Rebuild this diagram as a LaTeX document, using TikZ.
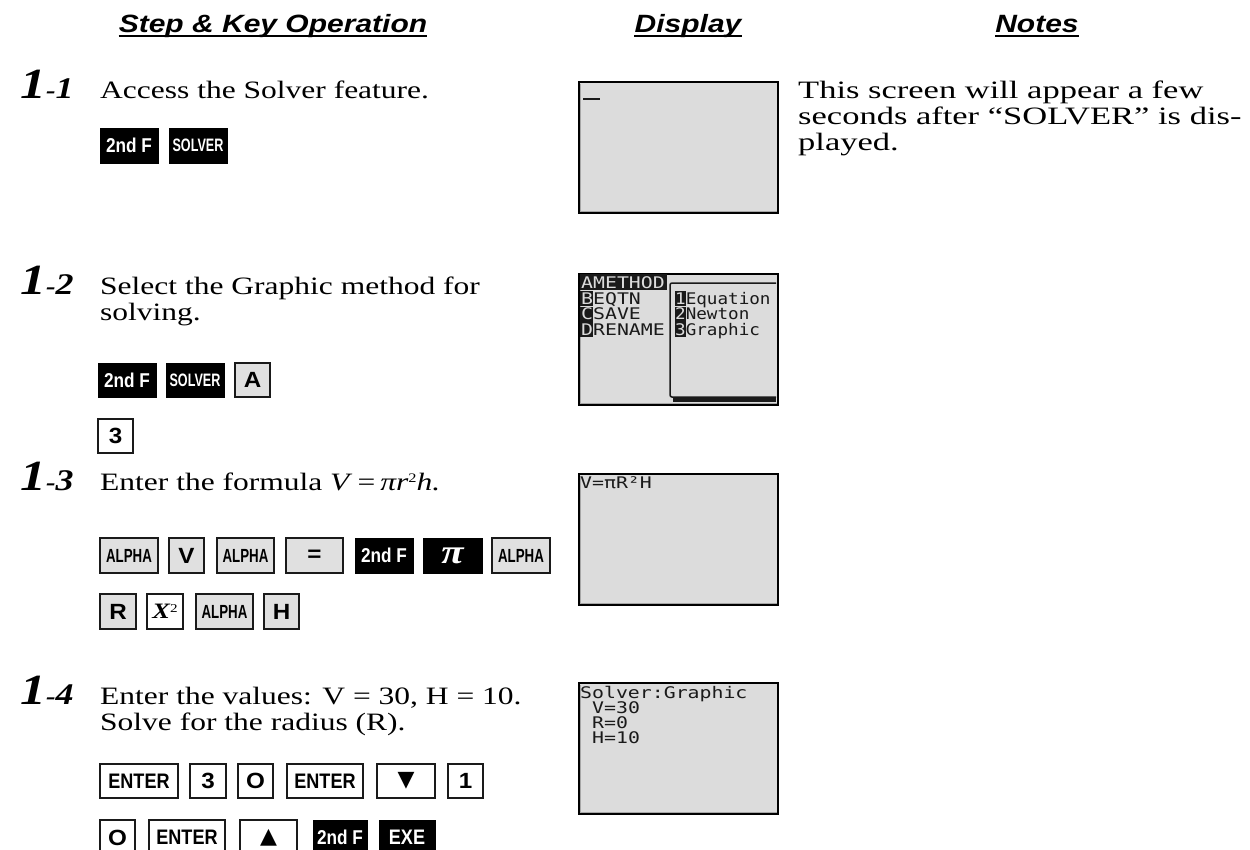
\documentclass[tikz,border=0pt]{standalone}
\usepackage{fontspec}
\setmainfont[FakeStretch=1.26]{Liberation Serif}
\newfontfamily\notefont[FakeStretch=1.38]{Liberation Serif}
\newfontfamily\labfont[FakeStretch=1.2]{Liberation Serif}
\newfontfamily\hdfont[FakeStretch=1.2]{Liberation Sans}
\newfontfamily\kfa[FakeStretch=0.7]{Liberation Sans}
\newfontfamily\kfb[FakeStretch=0.86]{Liberation Sans}
\newfontfamily\kfc[FakeStretch=1.1]{Liberation Sans}
\newfontfamily\symfont{DejaVu Sans}
\newfontfamily\lcdfont[FakeStretch=1.24]{DejaVu Sans Mono}
\newfontfamily\lcdnarrow[FakeStretch=1.1]{DejaVu Sans Mono}
\definecolor{lcd}{HTML}{DCDCDC}
\definecolor{keygray}{HTML}{E0E0E0}
\definecolor{ink}{HTML}{1A1A1A}
\newcommand\keyat[6]{\node[#1,minimum width={#4-#2},minimum height={#5-#3}] (#6) at ({(#2+#4)/2},{(#3+#5)/2})}
\begin{document}
\begin{tikzpicture}[x=1pt,y=-1pt,
  body/.style={anchor=base west,inner sep=0pt,font=\fontsize{25}{26}\selectfont},
  note/.style={anchor=base west,inner sep=0pt,font=\notefont\fontsize{25}{26}\selectfont},
  hdr/.style={anchor=base,inner sep=0pt,font=\hdfont\bfseries\itshape\fontsize{25}{30}\selectfont},
  stepno/.style={anchor=base west,inner sep=0pt,font=\labfont\bfseries\itshape},
  keybase/.style={draw=ink,line width=1.3pt,inner sep=0pt,text=black},
  gkey/.style={keybase,fill=keygray},
  wkey/.style={keybase,fill=white},
  bkey/.style={draw=black,fill=black,text=white,inner sep=0pt,line width=0.5pt},
  fA/.style={font=\kfa\bfseries\fontsize{19}{19}\selectfont},
  fS/.style={font=\kfa\bfseries\fontsize{18}{18}\selectfont},
  fB/.style={font=\kfb\bfseries\fontsize{20}{20}\selectfont},
  fE/.style={font=\kfb\bfseries\fontsize{21}{21}\selectfont},
  fL/.style={font=\kfc\bfseries\fontsize{22}{22}\selectfont},
  fT/.style={font=\symfont\fontsize{22}{22}\selectfont},
  screen/.style={draw=black,line width=2pt,fill=lcd,minimum width=199,minimum height=131,anchor=north west,inner sep=0pt},
  bevel/.style={draw=gray!70,line width=1pt},
  lcdtxt/.style={anchor=base west,inner sep=0pt,text height=11pt,text depth=2pt,font=\lcdfont\fontsize{16}{16}\selectfont,text=ink},
  lcdpop/.style={lcdtxt,font=\lcdnarrow\fontsize{16}{16}\selectfont},
  lcdinv/.style={lcdtxt,text=lcd}]
\useasboundingbox (0,0) rectangle (1250,849);

% headers
\node[hdr] (h1) at (273,32) {Step \& Key Operation};
\node[hdr] (h2) at (688,32) {Display};
\node[hdr] (h3) at (1037,32) {Notes};
\foreach \h in {h1,h2,h3}
  \draw[line width=2pt] ([yshift=-4pt]\h.base west) -- ([yshift=-4pt]\h.base east);

% step numbers
\node[stepno] (n1) at (20,98) {{\fontsize{43}{43}\selectfont 1}{\fontsize{24}{24}\selectfont -}{\fontsize{30}{30}\selectfont 1}};
\node[stepno] (n2) at (20,294) {{\fontsize{43}{43}\selectfont 1}{\fontsize{24}{24}\selectfont -}{\fontsize{30}{30}\selectfont 2}};
\node[stepno] (n3) at (20,490) {{\fontsize{43}{43}\selectfont 1}{\fontsize{24}{24}\selectfont -}{\fontsize{30}{30}\selectfont 3}};
\node[stepno] (n4) at (20,704) {{\fontsize{43}{43}\selectfont 1}{\fontsize{24}{24}\selectfont -}{\fontsize{30}{30}\selectfont 4}};

% step texts
\node[body] (t1) at (100,98) {Access the Solver feature.};
\node[body] (t2a) at (100,294) {Select the Graphic method for};
\node[body] (t2b) at (100,320) {solving.};
\node[body] (t3) at (100,490) {Enter the formula \textit{V}\kern5pt=\kern5pt\textit{πr}\raisebox{8pt}{\fontsize{13}{13}\selectfont 2}\textit{h.}};
\node[body] (t4a) at (100,704) {Enter the values: V = 30, H = 10.};
\node[body] (t4b) at (100,730) {Solve for the radius (R).};

% notes
\node[note] (no1) at (798,98) {This screen will appear a few};
\node[note] (no2) at (798,124) {seconds after “SOLVER” is dis-};
\node[note] (no3) at (798,150) {played.};

% keys 1-1
\keyat{bkey,fB}{100}{128}{158}{163}{k11}{2nd F};
\keyat{bkey,fS}{169}{128}{227}{163}{k12}{SOLVER};
% keys 1-2
\keyat{bkey,fB}{98}{363}{156}{397}{k21}{2nd F};
\keyat{bkey,fS}{166}{363}{224}{397}{k22}{SOLVER};
\keyat{gkey,fL}{235}{363}{270}{397}{k23}{A};
\keyat{wkey,fL}{98}{419}{133}{453}{k24}{3};
% keys 1-3
\keyat{gkey,fA}{100}{538}{158}{573}{k31}{ALPHA};
\keyat{gkey,fL}{169}{538}{204}{573}{k32}{V};
\keyat{gkey,fA}{217}{538}{274}{573}{k33}{ALPHA};
\keyat{gkey,fL}{286}{538}{343}{573}{k34}{=};
\keyat{bkey,fB}{355}{538}{413}{573}{k35}{2nd F};
\keyat{bkey}{423}{538}{482}{573}{k36}{\labfont\bfseries\itshape\fontsize{34}{34}\selectfont π};
\keyat{gkey,fA}{492}{538}{550}{573}{k37}{ALPHA};
\keyat{gkey,fL}{100}{594}{136}{629}{k38}{R};
\keyat{wkey}{147}{594}{183}{629}{k39}{\labfont\bfseries\itshape\fontsize{22}{22}\selectfont X\raisebox{6pt}{\normalfont\fontsize{12}{12}\selectfont 2}};
\keyat{gkey,fA}{196}{594}{253}{629}{k3a}{ALPHA};
\keyat{gkey,fL}{264}{594}{299}{629}{k3b}{H};
% keys 1-4
\keyat{wkey,fE}{100}{764}{178}{798}{k41}{ENTER};
\keyat{wkey,fL}{190}{764}{226}{798}{k42}{3};
\keyat{wkey,fL}{238}{764}{273}{798}{k43}{O};
\keyat{wkey,fE}{287}{764}{363}{798}{k44}{ENTER};
\keyat{wkey,fT}{377}{764}{435}{798}{k45}{▼};
\keyat{wkey,fL}{448}{764}{483}{798}{k46}{1};
\keyat{wkey,fL}{100}{820}{135}{855}{k47}{O};
\keyat{wkey,fE}{149}{820}{225}{855}{k48}{ENTER};
\keyat{wkey,fT}{240}{820}{297}{855}{k49}{▲};
\keyat{bkey,fB}{313}{820}{367}{855}{k4a}{2nd F};
\keyat{bkey,fE}{379}{820}{435}{855}{k4b}{EXE};

% screens
\node[screen] (s1) at (578,81) {};
\node[screen] (s2) at (578,273) {};
\node[screen] (s3) at (578,473) {};
\node[screen] (s4) at (578,682) {};
\foreach \s in {s1,s2,s3,s4}
  \draw[bevel] ([shift={(2.5,2.5)}]\s.north west) -- ([shift={(2.5,-2.5)}]\s.south west) -- ([shift={(-2.5,-2.5)}]\s.south east);

% screen 1 cursor
\draw[ink,line width=2.5pt] ([shift={(5,18)}]s1.north west) -- ([shift={(22,18)}]s1.north west);

% screen 2 menu
\fill[ink] (580,274) rectangle (667,290);
\fill[ink] (580,291) rectangle (592.5,306);
\fill[ink] (580,306.5) rectangle (592.5,321.5);
\fill[ink] (580,322) rectangle (592.5,337);
\node[lcdinv] (m1) at (581,288) {AMETHOD};
\node[lcdtxt] (m2) at (581,304) {{\color{lcd}B}EQTN};
\node[lcdtxt] (m3) at (581,319.5) {{\color{lcd}C}SAVE};
\node[lcdtxt] (m4) at (581,335) {{\color{lcd}D}RENAME};
\draw[ink,line width=1.5pt,rounded corners=2pt] (776,283) -- (670,283) -- (670,397) -- (776,397);
\fill[ink] (673,397) rectangle (776,401.5);
\fill[ink] (675,291) rectangle (686,306);
\fill[ink] (675,306.5) rectangle (686,321.5);
\fill[ink] (675,322) rectangle (686,337);
\node[lcdpop] (p1) at (675,304) {{\color{lcd}1}Equation};
\node[lcdpop] (p2) at (675,319.5) {{\color{lcd}2}Newton};
\node[lcdpop] (p3) at (675,335) {{\color{lcd}3}Graphic};

% screen 3
\node[lcdtxt] (e1) at (580,488) {V=πR²H};

% screen 4
\node[lcdtxt] (v1) at (580,698) {Solver:Graphic};
\node[lcdtxt] (v2) at (592,713) {V=30};
\node[lcdtxt] (v3) at (592,728) {R=0};
\node[lcdtxt] (v4) at (592,743) {H=10};
\end{tikzpicture}
\end{document}
